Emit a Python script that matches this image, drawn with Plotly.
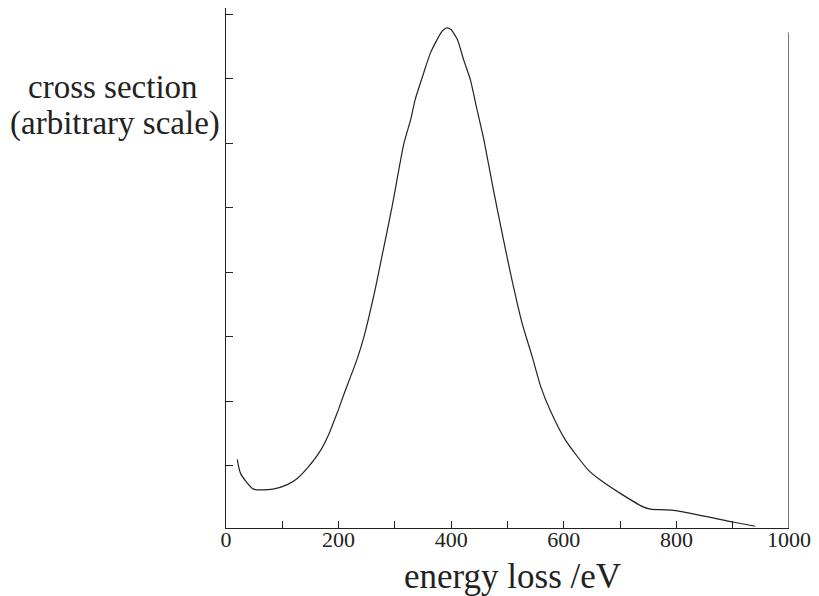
import plotly.graph_objects as go

# energy loss (eV) and cross section (arbitrary units)
energy = [20, 26, 49, 83, 109, 126, 144, 168, 183, 192, 200, 209, 233, 245, 262, 277,
          295, 316, 328, 336, 351, 363, 375, 384, 391, 399, 411, 422, 434, 446, 458,
          475, 493, 508, 526, 544, 559, 576, 603, 644, 665, 701, 742, 754, 795, 900, 940]
cross_section = [1.10, 0.88, 0.64, 0.64, 0.71, 0.80, 0.96, 1.24, 1.50, 1.70, 1.88, 2.10,
                 2.66, 3.00, 3.62, 4.25, 5.02, 6.00, 6.37, 6.68, 7.09, 7.40, 7.61, 7.74,
                 7.79, 7.77, 7.61, 7.30, 6.99, 6.52, 6.06, 5.28, 4.50, 3.88, 3.21, 2.69,
                 2.23, 1.86, 1.40, 0.93, 0.78, 0.57, 0.36, 0.33, 0.31, 0.13, 0.064]

# vertical marker line at the right end of the energy scale
marker_x = [1000, 1000]
marker_y = [0.037, 7.72]

x_tick_vals = [0, 200, 400, 600, 800, 1000]
x_tick_text = ["0", "200", "400", "600", "800", "1000"]
y_tick_vals = [1, 2, 3, 4, 5, 6, 7, 8]

x_title = "energy loss /eV"
y_title_lines = ["cross section", "(arbitrary scale)"]

FONT = "Liberation Serif, Times New Roman, serif"
INK = "#222222"

fig = go.Figure()
fig.add_trace(go.Scatter(x=energy, y=cross_section, mode="lines",
                         line=dict(color=INK, width=1.2, shape="spline", smoothing=0.6),
                         showlegend=False, hoverinfo="skip"))
fig.add_trace(go.Scatter(x=marker_x, y=marker_y, mode="lines",
                         line=dict(color=INK, width=1.2), showlegend=False, hoverinfo="skip"))

fig.update_layout(
    width=811, height=588,
    margin=dict(l=217.5, r=30, t=0.3, b=68.3),
    paper_bgcolor="white", plot_bgcolor="white",
    font=dict(family=FONT, color=INK),
    xaxis=dict(range=[0, 1000], showgrid=False, zeroline=False,
               showline=True, linecolor=INK, linewidth=1.2,
               tickmode="array", tickvals=x_tick_vals, ticktext=x_tick_text,
               ticks="inside", ticklen=7, tickwidth=1, tickcolor=INK,
               ticklabelstandoff=-9,
               tickfont=dict(family=FONT, size=22, color=INK),
               minor=dict(dtick=100, ticks="inside", ticklen=7, tickwidth=1, tickcolor=INK,
                          showgrid=False)),
    yaxis=dict(range=[0.037, 8.10], showgrid=False, zeroline=False,
               showline=True, linecolor=INK, linewidth=1.2,
               tickmode="array", tickvals=y_tick_vals, showticklabels=False,
               ticks="inside", ticklen=7, tickwidth=1, tickcolor=INK),
    annotations=[
        dict(text=x_title, xref="paper", yref="paper", x=0.508, y=-0.0935,
             xanchor="center", yanchor="middle", showarrow=False,
             font=dict(family=FONT, size=35, color=INK)),
        dict(text=y_title_lines[0], xref="paper", yref="paper", x=-0.2014, y=0.8485,
             xanchor="center", yanchor="middle", showarrow=False,
             font=dict(family=FONT, size=33, color=INK)),
        dict(text=y_title_lines[1], xref="paper", yref="paper", x=-0.198, y=0.7772,
             xanchor="center", yanchor="middle", showarrow=False,
             font=dict(family=FONT, size=33, color=INK)),
    ],
)

fig.write_html("out.html")
